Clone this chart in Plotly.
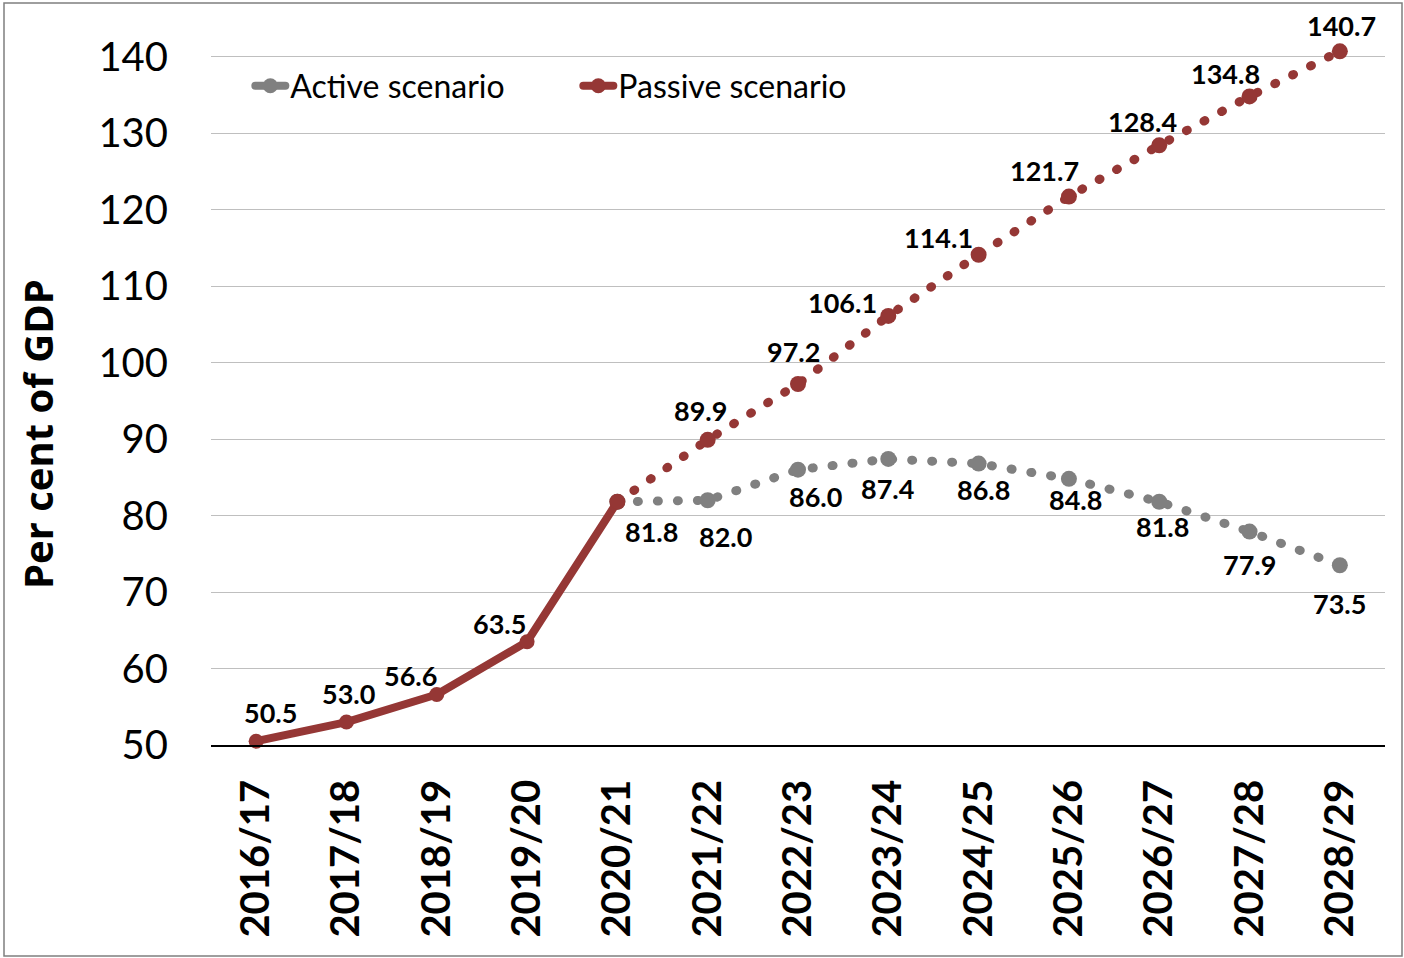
import plotly.graph_objects as go

years = ["2016/17", "2017/18", "2018/19", "2019/20", "2020/21", "2021/22", "2022/23",
         "2023/24", "2024/25", "2025/26", "2026/27", "2027/28", "2028/29"]
passive = [50.5, 53.0, 56.6, 63.5, 81.8, 89.9, 97.2, 106.1, 114.1, 121.7, 128.4, 134.8, 140.7]
active = [None, None, None, None, 81.8, 82.0, 86.0, 87.4, 86.8, 84.8, 81.8, 77.9, 73.5]
y_ticks = [50, 60, 70, 80, 90, 100, 110, 120, 130, 140]

HIST_END = 4  # index of 2020/21 (last outturn year)

# label offsets in pixels (style only): (dx, dy) with dy positive = downwards
passive_label_offsets = [(14, -29), (2, -29), (-26, -19), (-28, -18), None,
                         (-7, -29), (-5, -33), (-46, -13), (-40, -17), (-24, -26),
                         (-17, -24), (-24, -23), (2, -26)]
active_label_offsets = [None, None, None, None, (34, 30), (18, 36), (17, 27), (-1, 30),
                        (5, 26), (7, 21), (3, 25), (0, 33), (0, 38)]

RED = "#953735"
GRAY = "#808080"
FONT = "Lato, 'Open Sans', sans-serif"
LABEL_FONT = dict(family=FONT, size=27, color="black", weight="bold")

fig = go.Figure()

# Active scenario (projection, dotted)
fig.add_trace(go.Scatter(
    x=years[HIST_END:], y=active[HIST_END:], mode="lines+markers",
    line=dict(color=GRAY, width=9, dash="1px,19px"),
    marker=dict(color=GRAY, size=16),
    cliponaxis=False, showlegend=False, name="Active scenario",
))

# Passive scenario projection (dotted)
fig.add_trace(go.Scatter(
    x=years[HIST_END:], y=passive[HIST_END:], mode="lines+markers",
    line=dict(color=RED, width=9, dash="1px,19px"),
    marker=dict(color=RED, size=16),
    cliponaxis=False, showlegend=False, name="Passive scenario",
))

# Passive scenario outturn (solid)
fig.add_trace(go.Scatter(
    x=years[:HIST_END + 1], y=passive[:HIST_END + 1], mode="lines+markers",
    line=dict(color=RED, width=8),
    marker=dict(color=RED, size=15),
    cliponaxis=False, showlegend=True, legendrank=2, name="Passive scenario",
))

# Legend entry for active scenario (solid symbol as in the original legend)
fig.add_trace(go.Scatter(
    x=[None], y=[None], mode="lines+markers",
    line=dict(color=GRAY, width=8), marker=dict(color=GRAY, size=15),
    showlegend=True, legendrank=1, name="Active scenario",
))

annotations = []
for series, offsets in ((passive, passive_label_offsets), (active, active_label_offsets)):
    for cat, val, off in zip(years, series, offsets):
        if val is None or off is None:
            continue
        annotations.append(dict(
            x=cat, y=val, xref="x", yref="y", text=f"{val:.1f}", showarrow=False,
            xanchor="center", yanchor="middle", xshift=off[0], yshift=-off[1],
            font=LABEL_FONT,
        ))

W, H = 1404, 958
ml, mr, mt, mb = 211, 19, 49, 213
pw, ph = W - ml - mr, H - mt - mb
base = H - mb  # pixel row of the x axis

annotations.append(dict(
    text="Per cent of GDP", textangle=-90,
    x=(38 - ml) / pw, y=(base - 434) / ph, xref="paper", yref="paper",
    xanchor="center", yanchor="middle", showarrow=False,
    font=dict(family="'Open Sans', sans-serif", size=40, color="black", weight="bold"),
))

fig.update_layout(
    width=W, height=H,
    margin=dict(l=ml, r=mr, t=mt, b=mb, pad=0),
    paper_bgcolor="white", plot_bgcolor="white",
    font=dict(family=FONT, color="black"),
    legend=dict(
        orientation="h", x=0.0335, y=(base - 86) / ph,
        xanchor="left", yanchor="middle",
        font=dict(family=FONT, size=32, color="black"),
        entrywidth=283, entrywidthmode="pixels",
        bgcolor="rgba(0,0,0,0)", traceorder="normal",
    ),
    xaxis=dict(
        type="category", categoryorder="array", categoryarray=years,
        range=[-0.5, len(years) - 0.5],
        showgrid=False, showline=True, linecolor="black", linewidth=1.5,
        ticks="", tickangle=-90, ticklabelstandoff=17,
        tickfont=dict(family=FONT, size=40, color="black", weight="bold"),
        zeroline=False,
    ),
    yaxis=dict(
        range=[50, 141], tickvals=y_ticks,
        showgrid=True, gridcolor="#BFBFBF", gridwidth=1.2,
        showline=False, zeroline=False, ticks="",
        ticklabelstandoff=42,
        tickfont=dict(family=FONT, size=40, color="black"),
    ),
    annotations=annotations,
    shapes=[dict(
        type="rect", xref="paper", yref="paper",
        x0=(4 - ml) / pw, x1=(1402 - ml) / pw,
        y0=(base - 956) / ph, y1=(base - 3) / ph,
        line=dict(color="#7F7F7F", width=1.5), fillcolor="rgba(0,0,0,0)", layer="below",
    )],
)

post = """
document.body.style.margin = '0';
var gd = document.getElementById('{plot_id}');
gd.querySelectorAll('path.js-line').forEach(function(p){
  p.style.strokeLinecap = 'round';
  p.style.strokeLinejoin = 'round';
});
"""

fig.write_html("out.html", post_script=post, config={"displayModeBar": False})
